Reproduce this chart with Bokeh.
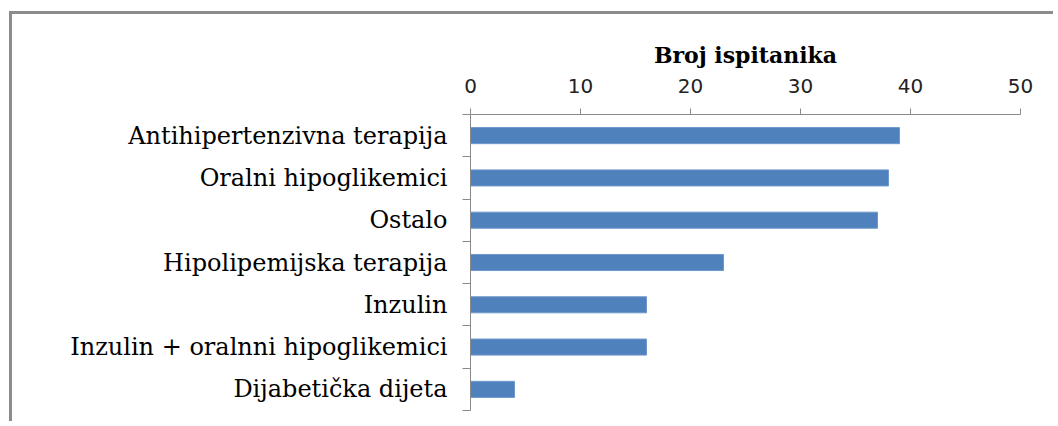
from bokeh.plotting import figure
from bokeh.models import Range1d, FixedTicker
from bokeh.embed import file_html
from bokeh.resources import INLINE

categories = [
    "Antihipertenzivna terapija",
    "Oralni hipoglikemici",
    "Ostalo",
    "Hipolipemijska terapija",
    "Inzulin",
    "Inzulin + oralnni hipoglikemici",
    "Dijabetička dijeta",
]
values = [39, 38, 37, 23, 16, 16, 4]
x_ticks = [0, 10, 20, 30, 40, 50]
axis_title = "Broj ispitanika"

n = len(categories)
ypos = [n - 1 - i + 0.5 for i in range(n)]

p = figure(
    width=1044, height=410,
    output_backend="svg", toolbar_location=None,
    x_axis_location="above",
    x_range=Range1d(0, 50), y_range=Range1d(0, n),
    min_border_left=458, min_border_right=36,
    min_border_top=100, min_border_bottom=14,
)
p.styles = {
    "border-top": "3px solid #8c8c8c",
    "border-left": "3px solid #8c8c8c",
    "margin-left": "9px",
    "margin-top": "11px",
}
p.outline_line_color = None
p.grid.visible = False

p.hbar(y=ypos, right=values, left=0, height=0.38,
       fill_color="#4F81BD", line_color="#6f98cc", line_width=1)

xa = p.xaxis[0]
xa.ticker = FixedTicker(ticks=x_ticks, minor_ticks=[])
xa.axis_line_color = "#8a8a8a"
xa.major_tick_line_color = "#8a8a8a"
xa.major_tick_out = 6
xa.major_tick_in = 0
xa.minor_tick_line_color = None
xa.major_label_text_font = "DejaVu Sans"
xa.major_label_text_font_size = "20px"
xa.major_label_text_color = "#222222"
xa.major_label_standoff = 16
xa.axis_label = axis_title
xa.axis_label_text_font = "DejaVu Serif"
xa.axis_label_text_font_style = "bold"
xa.axis_label_text_font_size = "22px"
xa.axis_label_text_color = "#000000"
xa.axis_label_standoff = 8

ya = p.yaxis[0]
ya.ticker = FixedTicker(ticks=ypos, minor_ticks=list(range(n + 1)))
ya.major_label_overrides = {ypos[i]: categories[i] for i in range(n)}
ya.axis_line_color = "#8a8a8a"
ya.major_tick_line_color = None
ya.major_tick_out = 0
ya.major_tick_in = 0
ya.minor_tick_line_color = "#8a8a8a"
ya.minor_tick_out = 8
ya.minor_tick_in = 0
ya.major_label_text_font = "DejaVu Serif"
ya.major_label_text_font_size = "24px"
ya.major_label_text_color = "#000000"
ya.major_label_standoff = 15

open("out.html", "w").write(file_html(p, INLINE))
